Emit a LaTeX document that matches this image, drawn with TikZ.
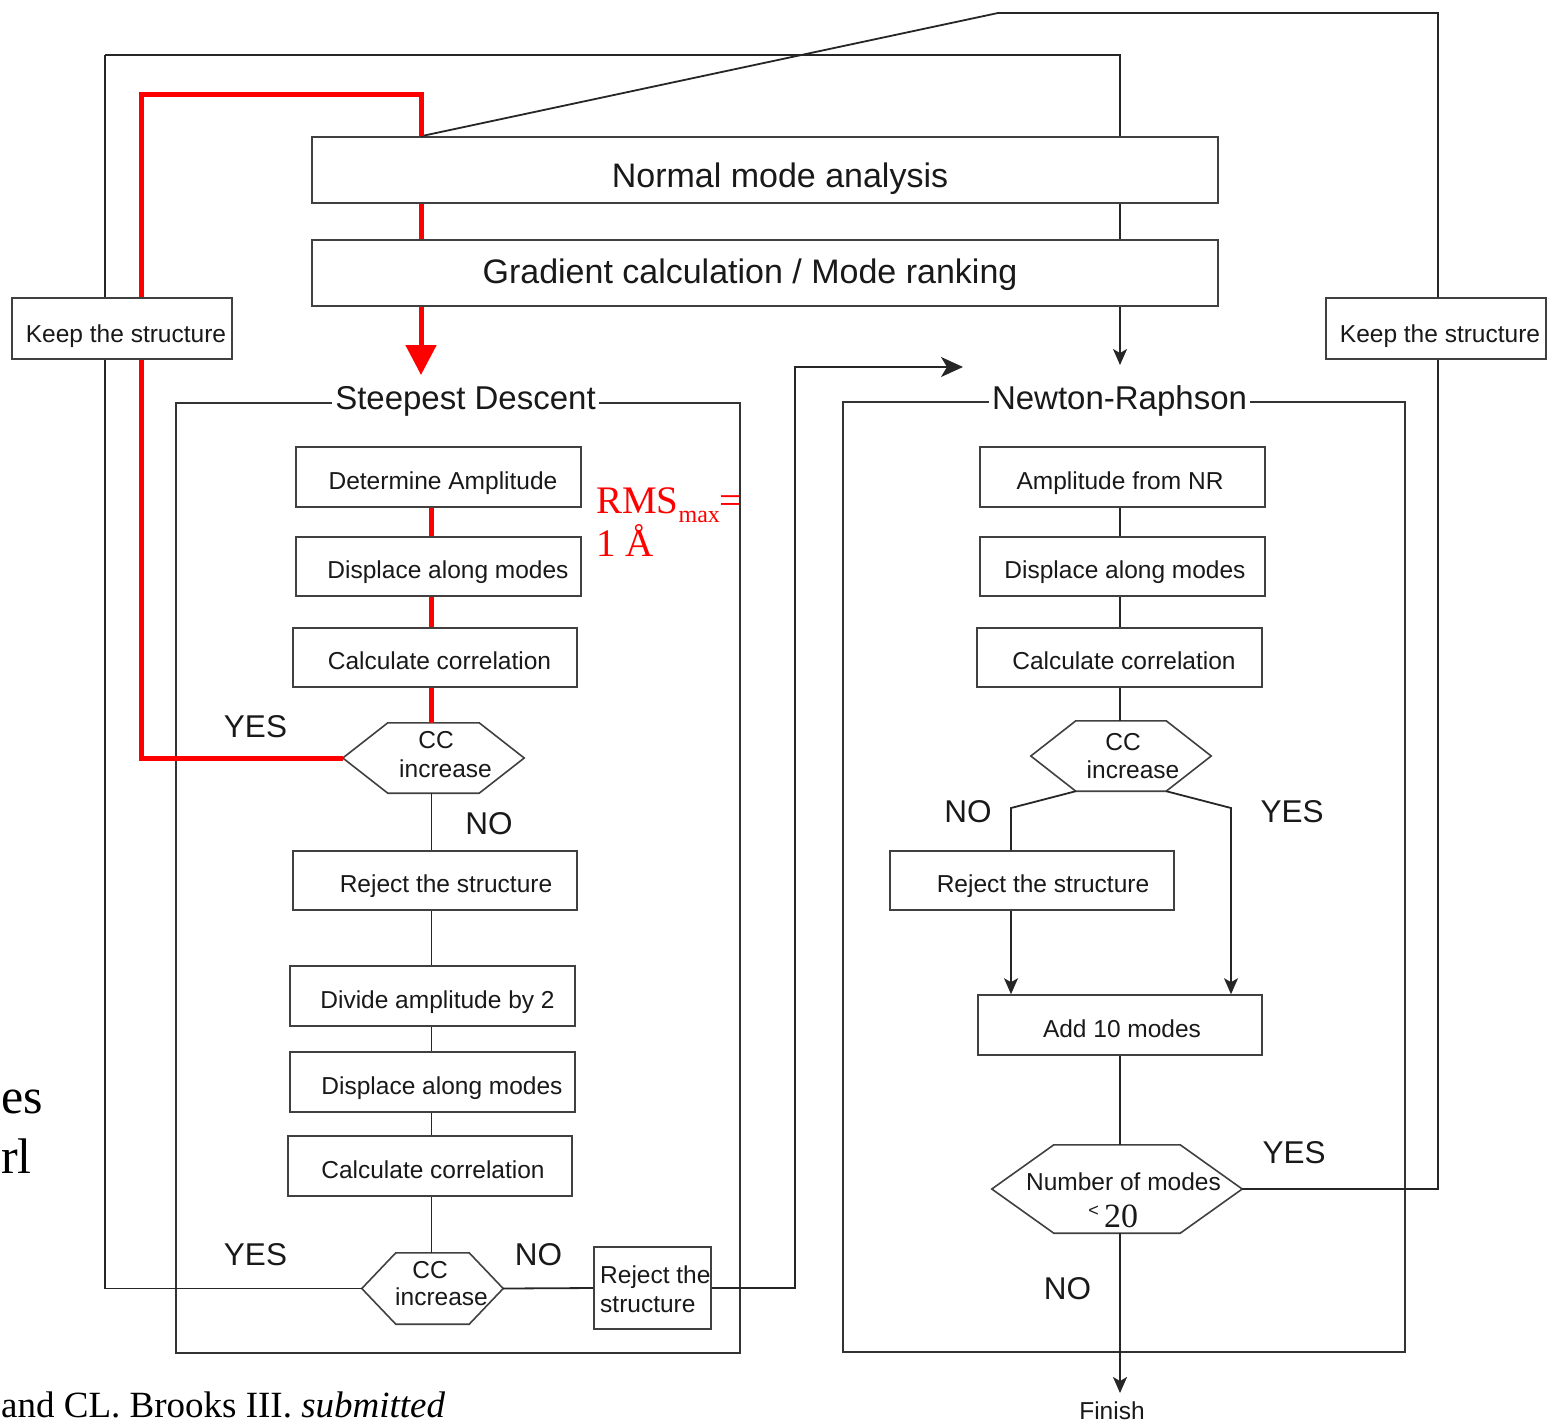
\documentclass[tikz,border=0pt]{standalone}
\usepackage{fontspec}
\setmainfont{Liberation Sans}
\newfontfamily\tnr{Liberation Serif}
\usetikzlibrary{arrows.meta}
\tikzset{
  box/.style={draw=black!75, line width=1.6pt, fill=white, inner sep=0pt},
  btxt/.style={anchor=base, inner sep=0pt, text=black!90, font=\fontsize{24.5}{29}\selectfont},
  ttl/.style={anchor=base, inner xsep=3pt, inner ysep=0pt, fill=white, text=black!90, font=\fontsize{33}{40}\selectfont},
  yn/.style={anchor=base, inner sep=0pt, text=black!90, font=\fontsize{31.5}{36}\selectfont},
  conn/.style={draw=black!85, line width=1.8pt},
  redc/.style={draw=red, line width=5pt},
  frm/.style={draw=black!80, line width=1.6pt, inner sep=0pt},
  arr/.style={-{Stealth[length=16pt,width=14pt,inset=4pt]}},
  bigarr/.style={-{Stealth[length=22pt,width=20pt,inset=6pt]}},
  redarr/.style={-{Triangle[length=30pt,width=30pt]}},
}
% box from corners: name, x1, y1, x2, y2
\newcommand\mkbox[5]{\node[box, minimum width={#4-#2}, minimum height={#5-#3}] (#1) at ({(#2+#4)/2},{(#3+#5)/2}) {};}
% hexagon: name, cx, cy, w, h, chamfer
\newcommand\mkhex[6]{%
  \node[inner sep=0pt, minimum width=#4, minimum height=#5] (#1) at (#2,#3) {};
  \draw[box] (#1.west) -- ([xshift=#6]#1.north west) -- ([xshift=-#6]#1.north east) -- (#1.east) -- ([xshift=-#6]#1.south east) -- ([xshift=#6]#1.south west) -- cycle;}
\begin{document}
\begin{tikzpicture}[x=1pt,y=-1pt]
\useasboundingbox (0,0) rectangle (1547,1422);

% ---- frames
\node[frm, minimum width=564, minimum height=950] (sdf) at (458,878) {};
\node[frm, minimum width=562, minimum height=950] (nrf) at (1124,877) {};

% ---- named coordinates
\coordinate (sdx) at (431.5,0);
\coordinate (nrx) at (1120,0);
\coordinate (redx) at (421,0);
\coordinate (rl) at (141,94);
\coordinate (ltop) at (105,55);
\coordinate (rtop) at (1438,13);
\coordinate (dtop) at (998,13);
\coordinate (jx) at (795,367);
\coordinate (nrtip) at (963,367);
\coordinate (nrin) at (1120,365);
\coordinate (redtip) at (421,375);
\coordinate (nob) at (1011,808);
\coordinate (yesb) at (1231,808);
\coordinate (fin) at (1120,1393);

% ---- top boxes
\mkbox{nma}{312}{137}{1218}{203}
\mkbox{gr}{312}{240}{1218}{306}

% ---- steepest descent boxes
\mkbox{da}{296}{447}{581}{507}
\mkbox{dm1}{296}{537}{581}{596}
\mkbox{cc1}{293}{628}{577}{687}
\mkbox{rj1}{293}{851}{577}{910}
\mkbox{dv}{290}{966}{575}{1026}
\mkbox{dm2}{290}{1052}{575}{1112}
\mkbox{cc2}{288}{1136}{572}{1196}
\mkbox{rj2}{594}{1247}{711}{1329}
\mkhex{sdh1}{433.5}{758}{181}{70}{45}
\mkhex{sdh2}{432.5}{1288.5}{141}{71}{34}

% ---- newton-raphson boxes
\mkbox{af}{980}{447}{1265}{507}
\mkbox{dn}{980}{537}{1265}{596}
\mkbox{cn}{977}{628}{1262}{687}
\mkbox{rn}{890}{851}{1174}{910}
\mkbox{ad}{978}{995}{1262}{1055}
\mkhex{nrh}{1121}{756}{180}{70}{45}
\mkhex{nh2}{1117}{1189}{250}{88}{62}

% ---- connectors (black)
\draw[conn] (ltop) -| (nma.north -| nrx);
\draw[conn] (sdh2.west) -| (ltop);
\draw[conn] (nma.south -| nrx) -- (gr.north -| nrx);
\draw[conn, arr] (gr.south -| nrx) -- (nrin);
\draw[conn] (nh2.east) -| (rtop) -- (dtop) -- (nma.north -| redx);
\draw[conn] (sdh1.south -| sdx) -- (rj1.north -| sdx);
\draw[conn] (rj1.south -| sdx) -- (dv.north -| sdx);
\draw[conn] (dv.south -| sdx) -- (dm2.north -| sdx);
\draw[conn] (dm2.south -| sdx) -- (cc2.north -| sdx);
\draw[conn] (cc2.south -| sdx) -- (sdh2.north -| sdx);
\draw[conn] (sdh2.east) -- (rj2.west);
\draw[conn, bigarr] (rj2.east) -| (jx) -- (nrtip);
\draw[conn] (af.south -| nrx) -- (dn.north -| nrx);
\draw[conn] (dn.south -| nrx) -- (cn.north -| nrx);
\draw[conn] (cn.south -| nrx) -- (nrh.north -| nrx);
\draw[conn] ([xshift=45]nrh.south west) -- (nob) -- (nob |- rn.north);
\draw[conn, arr] (rn.south -| nob) -- (ad.north -| nob);
\draw[conn, arr] ([xshift=-45]nrh.south east) -- (yesb) -- (ad.north -| yesb);
\draw[conn] (ad.south -| nrx) -- (nh2.north -| nrx);
\draw[conn, arr] (nh2.south -| nrx) -- (fin);

% ---- connectors (red)
\draw[redc] (sdh1.west) -| (rl) -| (nma.north -| redx);
\draw[redc] (nma.south -| redx) -- (gr.north -| redx);
\draw[redc, redarr] (gr.south -| redx) -- (redtip);
\draw[redc] (da.south -| sdx) -- (dm1.north -| sdx);
\draw[redc] (dm1.south -| sdx) -- (cc1.north -| sdx);
\draw[redc] (cc1.south -| sdx) -- (sdh1.north -| sdx);

% ---- keep boxes (on top of the loop lines)
\mkbox{kl}{12}{298}{232}{359}
\mkbox{kr}{1326}{298}{1546}{359}

% ---- titles
\node[ttl] (sdt) at (465.5,409) {Steepest Descent};
\node[ttl] (nrt) at (1119.5,409) {Newton-Raphson};
\node[btxt, font=\fontsize{34}{40}\selectfont] (nmat) at (780,187) {Normal mode analysis};
\node[btxt, font=\fontsize{34}{40}\selectfont] (grt) at (750,283) {Gradient calculation / Mode ranking};

% ---- box texts
\node[btxt] (klt) at (126,342) {Keep the structure};
\node[btxt] (krt) at (1440,342) {Keep the structure};
\node[btxt] (dat) at (443,489) {Determine Amplitude};
\node[btxt] (dm1t) at (448,578) {Displace along modes};
\node[btxt] (cc1t) at (439.5,669.5) {Calculate correlation};
\node[btxt] (rj1t) at (446,892.5) {Reject the structure};
\node[btxt] (dvt) at (437.5,1008) {Divide amplitude by 2};
\node[btxt] (dm2t) at (442,1094) {Displace along modes};
\node[btxt] (cc2t) at (433,1178) {Calculate correlation};
\node[btxt, anchor=base west] (rj2a) at (600,1283) {Reject the};
\node[btxt, anchor=base west] (rj2b) at (600,1312) {structure};
\node[btxt] (aft) at (1120,489) {Amplitude from NR};
\node[btxt] (dnt) at (1125,578) {Displace along modes};
\node[btxt] (cnt) at (1124,669.5) {Calculate correlation};
\node[btxt] (rnt) at (1043,892.5) {Reject the structure};
\node[btxt] (adt) at (1122,1037) {Add 10 modes};

% ---- hexagon texts
\node[btxt] (h1a) at (436,748) {CC};
\node[btxt] (h1b) at (445.5,777) {increase};
\node[btxt] (h2a) at (430,1278) {CC};
\node[btxt] (h2b) at (441.5,1305) {increase};
\node[btxt] (h3a) at (1123,750) {CC};
\node[btxt] (h3b) at (1133,778) {increase};
\node[btxt] (h4a) at (1123.5,1190) {Number of modes};
\node[btxt, font=\fontsize{18}{18}\selectfont] (h4lt) at (1093.5,1216) {<};
\node[btxt, font=\tnr\fontsize{34}{34}\selectfont] (h4n) at (1121,1227) {20};

% ---- yes / no
\node[yn] (y1) at (255.5,737) {YES};
\node[yn] (n1) at (489,834) {NO};
\node[yn] (y2) at (255.5,1265) {YES};
\node[yn] (n2) at (538.5,1265) {NO};
\node[yn] (n3) at (968,822) {NO};
\node[yn] (y3) at (1292,822) {YES};
\node[yn] (y4) at (1294,1163) {YES};
\node[yn] (n4) at (1067.5,1299) {NO};
\node[btxt] (finish) at (1112,1419) {Finish};

% ---- red annotation
\node[anchor=base west, inner sep=0pt, text=red, font=\tnr\fontsize{39}{44}\selectfont] (rms) at (596,513) {RMS\raisebox{-9pt}{\fontsize{24}{24}\selectfont max}=};
\node[anchor=base west, inner sep=0pt, text=red, font=\tnr\fontsize{39}{44}\selectfont] (ang) at (596,556) {1 Å};

% ---- stray slide text
\node[anchor=base west, inner sep=0pt, font=\tnr\fontsize{50}{50}\selectfont] (es) at (1,1113) {es};
\node[anchor=base west, inner sep=0pt, font=\tnr\fontsize{50}{50}\selectfont] (rlt) at (1,1173) {rl};
\node[anchor=base west, inner sep=0pt, font=\tnr\fontsize{37}{40}\selectfont] (cite) at (1,1417) {and CL. Brooks III. \textit{submitted}};
\end{tikzpicture}
\end{document}
